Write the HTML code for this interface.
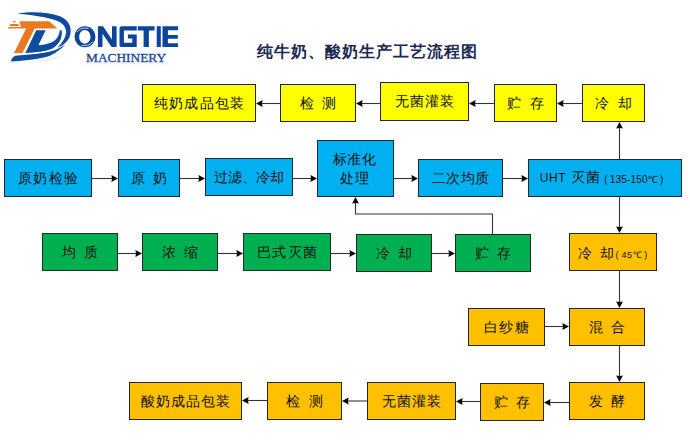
<!DOCTYPE html>
<html><head><meta charset="utf-8"><style>
html,body{margin:0;padding:0;background:#fff;}
body{width:690px;height:442px;position:relative;overflow:hidden;font-family:"Liberation Sans",sans-serif;}
.b{position:absolute;box-sizing:border-box;border:1px solid #252525;display:flex;align-items:center;justify-content:center;text-align:center;color:#111;font-size:13.5px;line-height:19px;letter-spacing:1.1px;padding-left:1.1px;}
.b s{display:inline-block;width:7.4px;}
.b .u{font-size:12px;letter-spacing:0.6px} .b .m{font-size:14px;} .b .p{font-size:10px;margin-left:3px;letter-spacing:0;position:relative;top:1px} .b .p i{font-style:normal;margin:0 2px 0 2px;letter-spacing:0.2px} .b .q{font-size:9px;letter-spacing:0} .b .q i{font-style:normal;margin:0 2px 0 3px;letter-spacing:0.6px}
.b small{font-size:9px;}
.ov{position:absolute;left:0;top:0;}
.logo{position:absolute;left:0;top:0;}
.title{position:absolute;left:257px;top:42px;font-size:16px;line-height:19px;font-weight:bold;color:#1b2a55;white-space:nowrap;letter-spacing:1px;}
</style></head><body>
<svg class="logo" width="190" height="75" viewBox="0 0 190 75">
<defs>
<linearGradient id="rf" x1="0" y1="0" x2="0" y2="1"><stop offset="0" stop-color="#c9d3e6"/><stop offset="1" stop-color="#ffffff"/></linearGradient>
<linearGradient id="mg" x1="0" y1="0" x2="0" y2="1"><stop offset="0" stop-color="#0a3783"/><stop offset="0.6" stop-color="#1a4896"/><stop offset="1" stop-color="#4a70b2"/></linearGradient>
</defs>
<g fill="#0f4c9e">
<path d="M17.5,13.6 C30,11.3 48,11.6 60,16.3 C68,19.8 71.5,26 70.6,33 C69.6,40 64.5,45 57,48 C62,43.5 65.6,38 66.1,32 C65.8,25 61,21.5 52.5,19.2 C42,16.5 28,14.8 17.5,13.6 Z"/>
<path fill-rule="evenodd" d="M36.2,30.2 L61.6,30.2 C62.6,36.5 60.5,43.5 52.5,48.5 C46,51.5 36,52.4 25.4,52.9 Z M45.7,30.2 L59.8,30.2 C59,36 56.5,40 52,42.2 C47,44.3 42,45 38.4,45.2 Z"/>
<path d="M10.7,61.6 C11.8,58.5 13,56.2 15.5,55.7 C30,54.4 46,53.2 54.5,50.2 C59.5,48.4 62.8,46.2 65.5,44 C61,49.8 53,54.8 47,56.8 C35,59.8 21,60.8 10.7,61.6 Z"/>
</g>
<g fill="#e9791f">
<path d="M19.3,21.2 L49.1,21.2 L57.4,28.4 L34.7,28.4 L22.5,52.9 L14,52.9 L26.2,28.4 L8,28.4 L8.6,27.1 L20.8,27.1 Z"/>
<path d="M10.6,24 L17.9,24 L19.3,26 L9.6,26 Z M13.4,20.9 L15.1,20.9 L16,22.3 L12.8,22.3 Z"/>
</g>
<path fill="url(#rf)" d="M11,62.5 C28,62 46,60 62,55.5 C50,63 28,66.5 11,62.5 Z" opacity="0.7"/>
<g fill="#0b4597">
<path fill-rule="evenodd" d="M85,26.3 C91,26.3 95.4,31 95.4,36.8 C95.4,42.6 91,47.3 85,47.3 C79,47.3 74.6,42.6 74.6,36.8 C74.6,31 79,26.3 85,26.3 Z M84.8,29.9 C81.6,29.9 79.2,33 79.2,36.8 C79.2,40.6 81.6,43.7 84.8,43.7 C88,43.7 90.5,40.6 90.5,36.8 C90.5,33 88,29.9 84.8,29.9 Z"/>
<path d="M97.9,47.1 V26.2 H103 L112,39.6 V26.2 H116.6 V47.1 H111.6 L102.5,33.7 V47.1 Z"/>
<path d="M121.5,26.2 H136.7 V30.5 H123.9 V42.8 H132.3 V38.4 H127.9 V34.4 H136.7 V47.1 H121.5 Q119.5,47.1 119.5,45 V28.2 Q119.5,26.2 121.5,26.2 Z"/>
<path d="M137.8,26.2 H154.6 V30.6 H148.9 V47.1 H143.6 V30.6 H137.8 Z"/>
<rect x="156.7" y="26.2" width="4.1" height="20.8"/>
<path d="M162.5,26.2 H178.1 V30.2 H167.9 V35.1 H177.8 V38.7 H167.9 V43.3 H178.1 V47 H162.5 Z"/>
</g>
<g fill="none" stroke="#fff" stroke-width="0.8" stroke-linecap="round">
<path d="M77.5,31.5 C80,28.3 84,27.6 88,28.3"/>
<path d="M92.5,42 C90,45.3 86,46 82,45.3"/>
</g>
<text x="86" y="61.6" font-family="Liberation Serif" font-size="12" fill="url(#mg)" stroke="#1a4793" stroke-width="0.3" textLength="80.2" lengthAdjust="spacingAndGlyphs">MACHINERY</text>
<path fill="url(#rf)" opacity="0.35" d="M86,62.5 H166 V66 H86 Z"/>
</svg>
<div class="title">纯牛奶、酸奶生产工艺流程图</div>
<div class="b" style="left:142px;top:84px;width:114px;height:38px;background:#ffff00"><span>纯奶成品包装</span></div><div class="b" style="left:280px;top:84px;width:76px;height:38px;background:#ffff00"><span>检<s></s>测</span></div><div class="b" style="left:380px;top:82px;width:89px;height:39px;background:#ffff00"><span>无菌灌装</span></div><div class="b" style="left:494px;top:84px;width:63px;height:38px;background:#ffff00"><span>贮<s></s>存</span></div><div class="b" style="left:582px;top:84px;width:63px;height:38px;background:#ffff00"><span>冷<s></s>却</span></div><div class="b" style="left:4px;top:159px;width:88px;height:38px;background:#00b0f0"><span>原奶检验</span></div><div class="b" style="left:118px;top:159px;width:62px;height:38px;background:#00b0f0"><span>原<s></s>奶</span></div><div class="b" style="left:205px;top:158px;width:88px;height:38px;background:#00b0f0;letter-spacing:0;padding-left:0"><span>过滤、冷却</span></div><div class="b" style="left:317px;top:140px;width:77px;height:57px;background:#00b0f0;letter-spacing:0.5px;padding-left:0;padding-right:2px"><span>标准化<br>处理</span></div><div class="b" style="left:418px;top:159px;width:85px;height:38px;background:#00b0f0;letter-spacing:0.3px;padding-left:0.3px"><span>二次均质</span></div><div class="b" style="left:528px;top:159px;width:154px;height:38px;background:#00b0f0;padding-right:8px"><span><span class="u">UHT</span> <span class="m">灭菌</span><span class="p">(<i>135-150℃</i>)</span></span></div><div class="b" style="left:42px;top:233px;width:76px;height:38px;background:#00b050"><span>均<s></s>质</span></div><div class="b" style="left:142px;top:233px;width:76px;height:38px;background:#00b050"><span>浓<s></s>缩</span></div><div class="b" style="left:243px;top:233px;width:88px;height:38px;background:#00b050"><span>巴式灭菌</span></div><div class="b" style="left:356px;top:234px;width:76px;height:38px;background:#00b050"><span>冷<s></s>却</span></div><div class="b" style="left:455px;top:234px;width:76px;height:38px;background:#00b050"><span>贮<s></s>存</span></div><div class="b" style="left:569px;top:233px;width:88px;height:38px;background:#ffc000;padding-right:2px;padding-top:5px"><span>冷<s></s>却<span class="q">(<i>45℃</i>)</span></span></div><div class="b" style="left:468px;top:308px;width:77px;height:38px;background:#ffc000"><span>白纱糖</span></div><div class="b" style="left:569px;top:308px;width:76px;height:38px;background:#ffc000"><span>混<s></s>合</span></div><div class="b" style="left:569px;top:382px;width:76px;height:38px;background:#ffc000"><span>发<s></s>酵</span></div><div class="b" style="left:480px;top:383px;width:64px;height:38px;background:#ffc000"><span>贮<s></s>存</span></div><div class="b" style="left:367px;top:382px;width:89px;height:38px;background:#ffc000"><span>无菌灌装</span></div><div class="b" style="left:267px;top:382px;width:75px;height:38px;background:#ffc000"><span>检<s></s>测</span></div><div class="b" style="left:129px;top:382px;width:113px;height:38px;background:#ffc000"><span>酸奶成品包装</span></div>
<svg class="ov" width="690" height="442" viewBox="0 0 690 442"><g stroke="#333" stroke-width="1.1" fill="none"><line x1="262.0" y1="103.5" x2="280" y2="103.5"/><line x1="362.0" y1="103.5" x2="380" y2="103.5"/><line x1="475.0" y1="103.5" x2="494" y2="103.5"/><line x1="563.0" y1="103.5" x2="582" y2="103.5"/><line x1="619.5" y1="159" x2="619.5" y2="128.0"/><line x1="92" y1="178.5" x2="112.0" y2="178.5"/><line x1="180" y1="178.5" x2="199.0" y2="178.5"/><line x1="293" y1="178.5" x2="311.0" y2="178.5"/><line x1="394" y1="178.5" x2="412.0" y2="178.5"/><line x1="503" y1="178.5" x2="522.0" y2="178.5"/><line x1="118" y1="253.5" x2="136.0" y2="253.5"/><line x1="218" y1="253.5" x2="237.0" y2="253.5"/><line x1="331" y1="253.5" x2="350.0" y2="253.5"/><line x1="432" y1="253.5" x2="449.0" y2="253.5"/><polyline points="492.5,234 492.5,214 355.5,214 355.5,203.0" /><line x1="619.5" y1="197" x2="619.5" y2="227.0"/><line x1="619.5" y1="271" x2="619.5" y2="302.0"/><line x1="545" y1="326.5" x2="563.0" y2="326.5"/><line x1="619.5" y1="346" x2="619.5" y2="376.0"/><line x1="550.0" y1="402.5" x2="569" y2="402.5"/><line x1="462.0" y1="401.5" x2="480" y2="401.5"/><line x1="348.0" y1="401" x2="367" y2="401"/><line x1="248.0" y1="400.5" x2="267" y2="400.5"/></g><g fill="#0a0a0a"><polygon points="256.00,103.50 262.60,100.10 262.00,103.50 262.60,106.90"/><polygon points="356.00,103.50 362.60,100.10 362.00,103.50 362.60,106.90"/><polygon points="469.00,103.50 475.60,100.10 475.00,103.50 475.60,106.90"/><polygon points="557.00,103.50 563.60,100.10 563.00,103.50 563.60,106.90"/><polygon points="619.50,122.00 616.10,128.60 619.50,128.00 622.90,128.60"/><polygon points="118.00,178.50 111.40,175.10 112.00,178.50 111.40,181.90"/><polygon points="205.00,178.50 198.40,175.10 199.00,178.50 198.40,181.90"/><polygon points="317.00,178.50 310.40,175.10 311.00,178.50 310.40,181.90"/><polygon points="418.00,178.50 411.40,175.10 412.00,178.50 411.40,181.90"/><polygon points="528.00,178.50 521.40,175.10 522.00,178.50 521.40,181.90"/><polygon points="142.00,253.50 135.40,250.10 136.00,253.50 135.40,256.90"/><polygon points="243.00,253.50 236.40,250.10 237.00,253.50 236.40,256.90"/><polygon points="356.00,253.50 349.40,250.10 350.00,253.50 349.40,256.90"/><polygon points="455.00,253.50 448.40,250.10 449.00,253.50 448.40,256.90"/><polygon points="355.50,197.00 352.10,203.60 355.50,203.00 358.90,203.60"/><polygon points="619.50,233.00 616.10,226.40 619.50,227.00 622.90,226.40"/><polygon points="619.50,308.00 616.10,301.40 619.50,302.00 622.90,301.40"/><polygon points="569.00,326.50 562.40,323.10 563.00,326.50 562.40,329.90"/><polygon points="619.50,382.00 616.10,375.40 619.50,376.00 622.90,375.40"/><polygon points="544.00,402.50 550.60,399.10 550.00,402.50 550.60,405.90"/><polygon points="456.00,401.50 462.60,398.10 462.00,401.50 462.60,404.90"/><polygon points="342.00,401.00 348.60,397.60 348.00,401.00 348.60,404.40"/><polygon points="242.00,400.50 248.60,397.10 248.00,400.50 248.60,403.90"/></g></svg>
</body></html>
